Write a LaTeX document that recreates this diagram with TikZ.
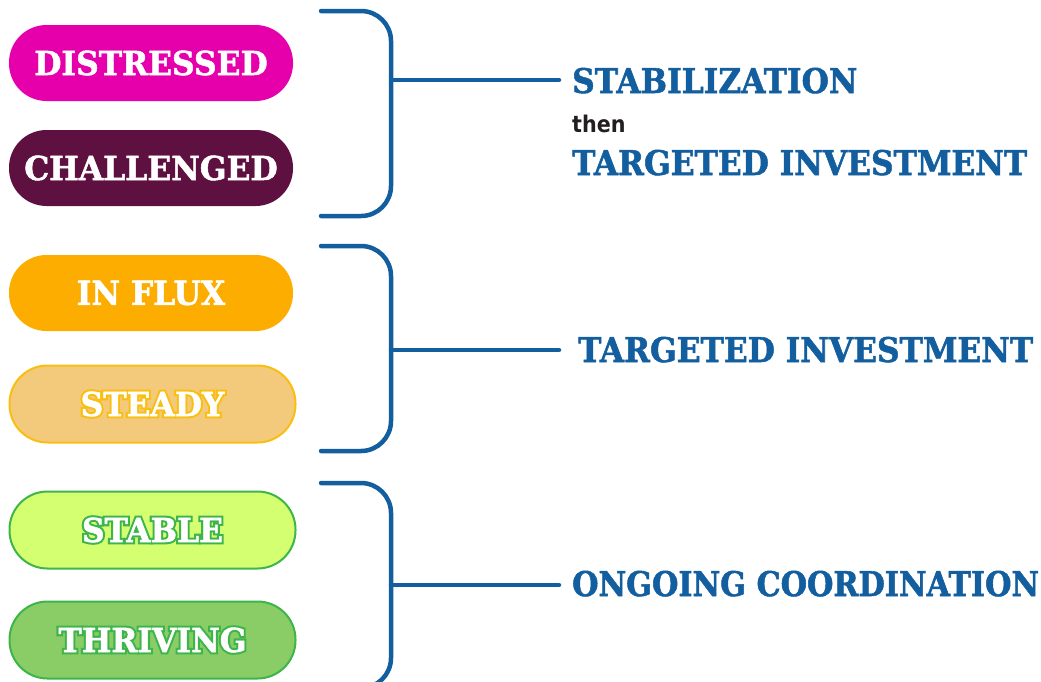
\documentclass[tikz,border=0pt]{standalone}
\usepackage{fontspec}
\setmainfont{DejaVu Serif}
\newfontfamily\slab[FakeStretch=0.95,FakeBold=1.5]{DejaVu Serif}
\newfontfamily\slabol[FakeStretch=0.95,FakeBold=14]{DejaVu Serif}
\newfontfamily\slabl[FakeStretch=0.89,FakeBold=1.5]{DejaVu Serif}
\newfontfamily\slabw[FakeStretch=0.92,FakeBold=1.5]{DejaVu Serif}
\newfontfamily\cond{DejaVu Sans Condensed}
\definecolor{bblue}{HTML}{135E9F}
\definecolor{cdist}{HTML}{E600AC}
\definecolor{cchal}{HTML}{5E1140}
\definecolor{cflux}{HTML}{FDAC00}
\definecolor{csteadyf}{HTML}{F3CA7C}
\definecolor{csteadyb}{HTML}{F9BE10}
\definecolor{cstablef}{HTML}{D4FF70}
\definecolor{cgreen}{HTML}{3DB54A}
\definecolor{cthrivf}{HTML}{8ACC66}
\definecolor{cthen}{HTML}{231F20}
\newcommand{\outlined}[2]{\makebox[0pt][l]{\color{#1}\slabol\bfseries #2}#2}
\begin{document}
\begin{tikzpicture}[x=1pt,y=-1pt,
  pill/.style={rectangle,rounded corners=37.5pt,minimum width=284pt,minimum height=76pt,
    inner sep=0pt,text=white,font=\slab\bfseries\fontsize{33}{36}\selectfont},
  opill/.style={pill,draw,line width=2pt,minimum width=286pt,minimum height=77pt,rounded corners=38pt},
  brk/.style={draw=bblue,line width=4.5pt,line cap=round,rounded corners=30pt},
  stem/.style={draw=bblue,line width=4.5pt,line cap=round},
  lbl/.style={anchor=base west,inner sep=0pt,text=bblue,font=\slabl\bfseries\fontsize{34}{36}\selectfont},
  lblw/.style={lbl,font=\slabw\bfseries\fontsize{34}{36}\selectfont}]
\useasboundingbox (0,0) rectangle (1041,681);
\begin{scope}
\clip (0,0) rectangle (1041,681);
% pills
\node[pill,fill=cdist] (dist) at (151,63) {DISTRESSED};
\node[pill,fill=cchal] (chal) at (151,168) {CHALLENGED};
\node[pill,fill=cflux] (flux) at (151,293) {IN FLUX};
\node[opill,fill=csteadyf,draw=csteadyb] (stdy) at (152.5,404) {\outlined{csteadyb}{STEADY}};
\node[opill,fill=cstablef,draw=cgreen] (stab) at (152.5,530) {\outlined{cgreen}{STABLE}};
\node[opill,fill=cthrivf,draw=cgreen] (thrv) at (152.5,640) {\outlined{cgreen}{THRIVING}};
% labels
\node[lblw] (l1) at (572,93) {STABILIZATION};
\node[anchor=base west,inner sep=0pt,text=cthen,font=\cond\bfseries\fontsize{23}{24}\selectfont] (then) at (572,132) {then};
\node[lblw] (l1b) at (572,175) {TARGETED INVESTMENT};
\node[lblw] (l2) at (578,362) {TARGETED INVESTMENT};
\node[lbl] (l3) at (572,596) {ONGOING COORDINATION};
% brackets
\coordinate (b1t) at (321,11); \coordinate (b1b) at (321,216); \coordinate (b1m) at (391,80);
\coordinate (b2t) at (321,246); \coordinate (b2b) at (321,451); \coordinate (b2m) at (391,350);
\coordinate (b3t) at (321,483); \coordinate (b3b) at (321,688); \coordinate (b3m) at (391,585);
\coordinate (e1) at (559,80); \coordinate (e2) at (559,350); \coordinate (e3) at (559,585);
\path[brk] (b1t) -| (b1b -| b1m) -- (b1b);
\path[brk] (b2t) -| (b2b -| b2m) -- (b2b);
\path[brk] (b3t) -| (b3b -| b3m) -- (b3b);
\path[stem] (b1m) -- (e1);
\path[stem] (b2m) -- (e2);
\path[stem] (b3m) -- (e3);
\end{scope}
\end{tikzpicture}
\end{document}
